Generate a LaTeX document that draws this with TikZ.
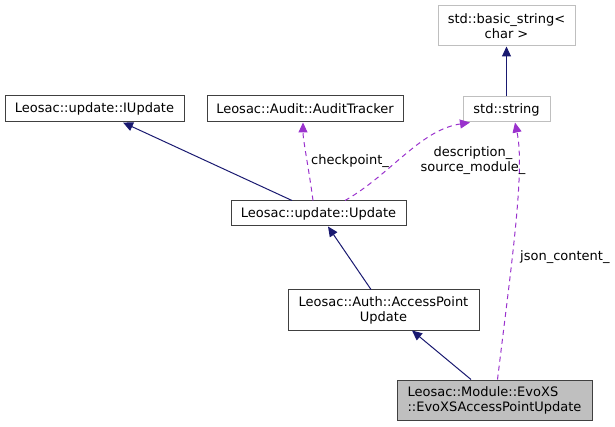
\documentclass[tikz,border=0pt]{standalone}
\usepackage{fontspec}
\setmainfont{DejaVu Sans}
\usetikzlibrary{arrows.meta}
\definecolor{navyc}{HTML}{191970}
\definecolor{purp}{HTML}{9A32CD}
\definecolor{lgray}{HTML}{BFBFBF}
\definecolor{dgray}{HTML}{404040}
\tikzset{
  cls/.style={draw=dgray, line width=1pt, fill=white, inner sep=0pt, align=center, font=\fontsize{13}{15}\selectfont},
  ext/.style={cls, draw=lgray},
  cur/.style={cls, fill=lgray, align=left},
  inh/.style={draw=navyc, line width=1pt, -{Triangle[length=10pt,width=9pt]}},
  use/.style={draw=purp, line width=1pt, dash pattern=on 5pt off 4pt, -{Triangle[length=10pt,width=9pt]}},
  lbl/.style={font=\fontsize{13}{15}\selectfont, inner sep=0pt, align=center}
}
\begin{document}
\begin{tikzpicture}[x=1pt,y=-1pt]
\useasboundingbox (0,0) rectangle (615,427);
\node[ext, minimum width=137pt, minimum height=40pt] (bs) at (506.5,26) {std::basic\_string<\\char >};
\node[ext, minimum width=87pt, minimum height=25pt] (str) at (506.5,109.5) {std::string};
\node[cls, minimum width=179pt, minimum height=26pt] (iu) at (94.5,109) {Leosac::update::IUpdate};
\node[cls, minimum width=196pt, minimum height=26pt] (at) at (305,109) {Leosac::Audit::AuditTracker};
\node[cls, minimum width=175pt, minimum height=25pt] (up) at (318.5,213.5) {Leosac::update::Update};
\node[cls, minimum width=191pt, minimum height=40pt] (ap) at (383.5,310) {Leosac::Auth::AccessPoint\\Update};
\node[cur, minimum width=195pt, minimum height=40pt] (evo) at (494.5,400) {Leosac::Module::EvoXS\\::EvoXSAccessPointUpdate};

\draw[inh] (str.north) -- (bs.south);
\draw[inh] ([xshift=-26.5pt]up.north) -- ([xshift=28.5pt]iu.south);
\draw[use] ([xshift=-5.5pt]up.north) .. controls (309,170) and (303,140) .. ([xshift=-2pt]at.south);
\draw[use] ([xshift=26.5pt]up.north) .. controls (390,175) and (420,130) .. ([xshift=-36.5pt]str.south);
\draw[use] ([xshift=3pt]evo.north) .. controls (512,260) and (525,170) .. ([xshift=8.5pt]str.south);
\draw[inh] ([xshift=-12.5pt]ap.north) -- ([xshift=9.5pt]up.south);
\draw[inh] ([xshift=-23.5pt]evo.north) -- ([xshift=28.5pt]ap.south);

\node[lbl, anchor=west] (lcp) at (311,161) {checkpoint\_};
\node[lbl] (lds) at (473,160.5) {description\_\\source\_module\_};
\node[lbl, anchor=west] (ljs) at (520,257) {json\_content\_};
\end{tikzpicture}
\end{document}
